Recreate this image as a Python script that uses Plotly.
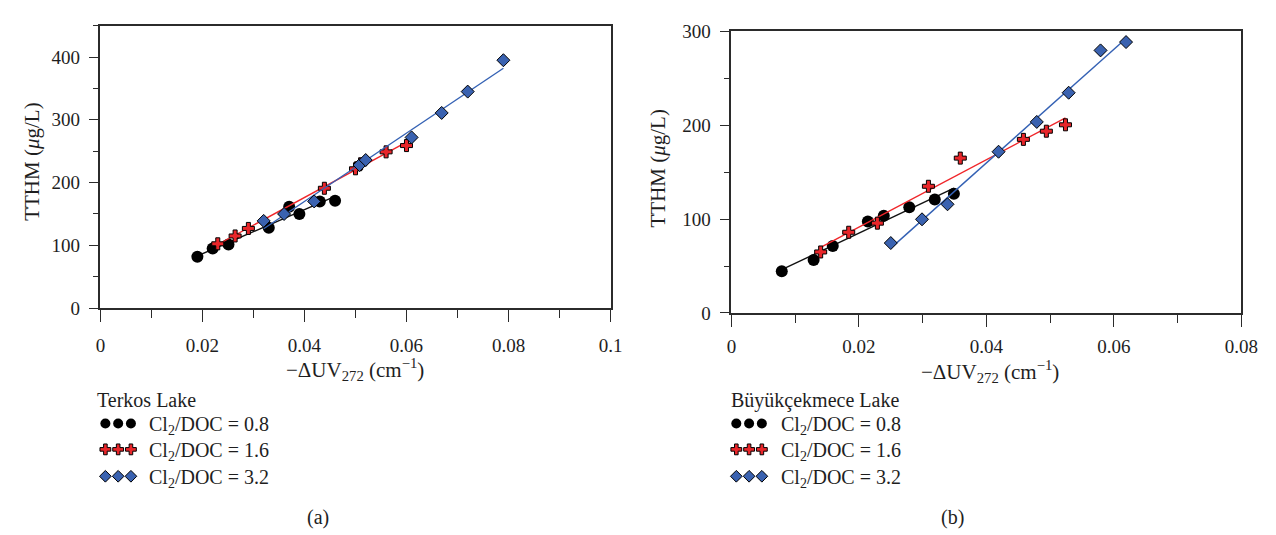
import numpy as np
import plotly.graph_objects as go

# ---------------- data ----------------
# (a) Terkos Lake
a_x_08 = [0.0190, 0.0220, 0.0251, 0.0330, 0.0370, 0.0390, 0.0430, 0.0460]
a_y_08 = [82, 95, 101.5, 128, 161.5, 150, 170, 171]
a_x_16 = [0.0230, 0.0264, 0.0290, 0.0439, 0.0500, 0.0510, 0.0560, 0.0600]
a_y_16 = [102.5, 115, 127, 191, 222, 230, 249, 259]
a_x_32 = [0.0320, 0.0360, 0.0419, 0.0508, 0.0520, 0.0610, 0.0669, 0.0720, 0.0790]
a_y_32 = [139, 150, 170, 228, 236, 272, 311, 345, 395]

# (b) Büyükçekmece Lake
b_x_08 = [0.0079, 0.0129, 0.0159, 0.0214, 0.0239, 0.0279, 0.0319, 0.0349]
b_y_08 = [44.4, 56.4, 71.4, 97.4, 103.5, 112.7, 121, 127]
b_x_16 = [0.0140, 0.0184, 0.0229, 0.0309, 0.0359, 0.0458, 0.0494, 0.0524]
b_y_16 = [65, 86, 95.7, 135, 165, 185, 193.7, 200.5]
b_x_32 = [0.0250, 0.0299, 0.0339, 0.0419, 0.0479, 0.0529, 0.0579, 0.0619]
b_y_32 = [74.5, 99.8, 115.8, 171.8, 203.6, 234.7, 279.8, 288.7]

a_xticks = [0, 0.02, 0.04, 0.06, 0.08, 0.1]
a_xticklabels = ["0", "0.02", "0.04", "0.06", "0.08", "0.1"]
a_yticks = [0, 100, 200, 300, 400]
b_xticks = [0, 0.02, 0.04, 0.06, 0.08]
b_xticklabels = ["0", "0.02", "0.04", "0.06", "0.08"]
b_yticks = [0, 100, 200, 300]

series_labels = ["Cl<sub>2</sub>/DOC = 0.8", "Cl<sub>2</sub>/DOC = 1.6", "Cl<sub>2</sub>/DOC = 3.2"]
lake_names = ["Terkos Lake", "Büyükçekmece Lake"]
panel_tags = ["(a)", "(b)"]

# ---------------- styles ----------------
W, H = 1276, 535
FONT = "Liberation Serif"
AX = "#2b2b2b"
TXT = "#1e1e1e"
line_colors = ["#111111", "#f0262a", "#3461b4"]
marker_styles = [
    dict(symbol="circle", size=12, color="#000000", line=dict(width=0)),
    dict(symbol="cross", size=10, color="#e8262a", line=dict(width=1, color="#000000")),
    dict(symbol="diamond", size=10, color="#3a62b0", line=dict(width=1, color="#000000")),
]
legend_marker_styles = [
    dict(symbol="circle", size=10, color="#000000", line=dict(width=0)),
    dict(symbol="cross", size=9, color="#e8262a", line=dict(width=1, color="#000000")),
    dict(symbol="diamond", size=9, color="#3a62b0", line=dict(width=1, color="#000000")),
]

fig = go.Figure()


def add_series(xs, ys, k, xa, ya):
    xs = np.asarray(xs, float)
    ys = np.asarray(ys, float)
    slope, icpt = np.polyfit(xs, ys, 1)
    xl = np.array([xs.min(), xs.max()])
    fig.add_trace(go.Scatter(x=xl, y=slope * xl + icpt, mode="lines",
                             line=dict(color=line_colors[k], width=1.4),
                             xaxis=xa, yaxis=ya, showlegend=False, hoverinfo="skip"))
    fig.add_trace(go.Scatter(x=xs, y=ys, mode="markers", marker=marker_styles[k],
                             xaxis=xa, yaxis=ya, showlegend=False))


for k, (xs, ys) in enumerate([(a_x_08, a_y_08), (a_x_16, a_y_16), (a_x_32, a_y_32)]):
    add_series(xs, ys, k, "x", "y")
for k, (xs, ys) in enumerate([(b_x_08, b_y_08), (b_x_16, b_y_16), (b_x_32, b_y_32)]):
    add_series(xs, ys, k, "x2", "y2")

# legend glyphs on a pixel-space overlay axis
leg_left = [85, 731]        # left edge of legend title
leg_mark0 = [94, 736]       # first glyph centre
leg_text0 = [138, 781]      # series label left edge
leg_rows = [422, 449, 477]
for p in range(2):
    for k in range(3):
        x0 = leg_mark0[p]
        fig.add_trace(go.Scatter(x=[x0, x0 + 13, x0 + 26], y=[leg_rows[k]] * 3, mode="markers",
                                 marker=legend_marker_styles[k], xaxis="x3", yaxis="y3",
                                 showlegend=False, hoverinfo="skip"))

common_axis = dict(showline=True, linecolor=AX, linewidth=1.5, mirror=True, showgrid=False,
                   zeroline=False, ticks="outside", tickcolor=AX, tickwidth=1.3,
                   tickfont=dict(family=FONT, size=19, color=TXT))

px = lambda v: v / W
py = lambda v: 1 - v / H
minor_x = dict(dtick=0.01, ticklen=8, ticks="outside", tickcolor=AX, tickwidth=1.3)
minor_y = dict(dtick=50, ticklen=6, ticks="outside", tickcolor=AX, tickwidth=1.3)

fig.update_layout(
    width=W, height=H, margin=dict(l=0, r=0, t=0, b=0),
    paper_bgcolor="white", plot_bgcolor="rgba(0,0,0,0)", showlegend=False,
    font=dict(family=FONT, size=19, color=TXT),
    xaxis=dict(**common_axis, domain=[px(89), px(608)], range=[0, 0.1],
               tickvals=a_xticks, ticktext=a_xticklabels, ticklen=12,
               ticklabelstandoff=7, minor=minor_x, anchor="y"),
    yaxis=dict(**common_axis, domain=[py(302), py(8)], range=[0, 450],
               tickvals=a_yticks, ticklen=10, ticklabelstandoff=5,
               minor=minor_y, anchor="x"),
    xaxis2=dict(**common_axis, domain=[px(731), px(1250)], range=[0, 0.08],
                tickvals=b_xticks, ticktext=b_xticklabels, ticklen=12,
                ticklabelstandoff=4, minor=minor_x, anchor="y2"),
    yaxis2=dict(**common_axis, domain=[py(307), py(14)], range=[0, 300],
                tickvals=b_yticks, ticklen=10, ticklabelstandoff=5,
                minor=minor_y, anchor="x2"),
    xaxis3=dict(domain=[0, 1], range=[0, W], visible=False, fixedrange=True, anchor="y3"),
    yaxis3=dict(domain=[0, 1], range=[H, 0], visible=False, fixedrange=True, anchor="x3"),
)

ytitle = "TTHM (<i>μ</i>g/L)"
xtitle = "−ΔUV<sub>272</sub> (cm<sup>−1</sup>)"
ann = []


def A(text, x, y, size=20, xanchor="center", angle=0):
    ann.append(dict(text=text, x=px(x), y=py(y), xref="paper", yref="paper",
                    xanchor=xanchor, yanchor="middle", textangle=angle, showarrow=False,
                    font=dict(family=FONT, size=size, color=TXT)))


for p, (yx, yy, xx, xy) in enumerate([(19, 150, 348, 366), (656, 157, 994, 368)]):
    A(ytitle, yx, yy, size=21, angle=-90)
    A(xtitle, xx, xy, size=21)
    A(lake_names[p], leg_left[p] - 2, 398, size=20, xanchor="left")
    for k in range(3):
        A(series_labels[k], leg_text0[p] - 2, leg_rows[k] + 2, size=20, xanchor="left")
    A(panel_tags[p], [310, 956][p], 520, size=20)
fig.update_layout(annotations=ann)

fig.write_html("out.html")
